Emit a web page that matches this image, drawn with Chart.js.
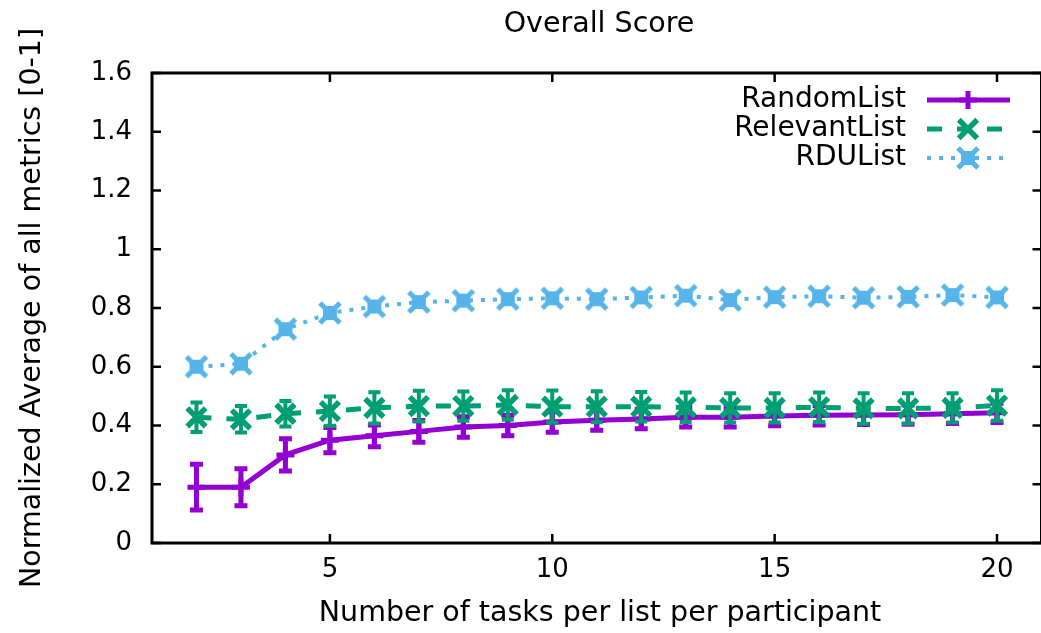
<!DOCTYPE html>
<html>
<head>
<meta charset="utf-8">
<script src="https://cdn.jsdelivr.net/npm/chart.js@4.4.0/dist/chart.umd.min.js"></script>
<style>
html,body{margin:0;padding:0;background:#fff;overflow:hidden;}
#wrap{width:1060px;height:633px;}
</style>
</head>
<body>
<div id="wrap"><canvas id="c" width="1060" height="633"></canvas></div>
<script>
// ---- data ----
const xValues = [2,3,4,5,6,7,8,9,10,11,12,13,14,15,16,17,18,19,20];
const randomMean = [0.19,0.19,0.30,0.35,0.365,0.38,0.395,0.40,0.412,0.418,0.422,0.428,0.428,0.432,0.435,0.436,0.437,0.44,0.443];
const randomErr  = [0.078,0.063,0.055,0.043,0.037,0.037,0.035,0.035,0.035,0.034,0.033,0.033,0.033,0.033,0.033,0.033,0.033,0.033,0.033];
const relevantMean = [0.428,0.421,0.44,0.449,0.46,0.466,0.466,0.47,0.464,0.464,0.464,0.462,0.46,0.46,0.462,0.458,0.458,0.46,0.468];
const relevantErr  = [0.05,0.045,0.043,0.05,0.053,0.052,0.05,0.05,0.055,0.053,0.05,0.05,0.05,0.05,0.05,0.052,0.052,0.05,0.052];
const rduMean = [0.60,0.61,0.728,0.783,0.805,0.82,0.825,0.83,0.833,0.83,0.836,0.842,0.827,0.837,0.84,0.835,0.838,0.844,0.836];
const seriesNames = ['RandomList','RelevantList','RDUList'];
const xTickValues = [5,10,15,20];
const yTickValues = [0,0.2,0.4,0.6,0.8,1,1.2,1.4,1.6];
const yTickLabels = ['0','0.2','0.4','0.6','0.8','1','1.2','1.4','1.6'];
const titleText = 'Overall Score';
const xTitle = 'Number of tasks per list per participant';
const yTitle = 'Normalized Average of all metrics [0-1]';

const FONT = 'DejaVu Sans';
const TXT = 28.5, LEG = 28, TICK = 26;
const PURPLE = '#9400d3', GREEN = '#009e73', BLUE = '#56b4e9';

// blue marker: filled square with diagonal knobs
function makeBlueMarker(){
  const c = document.createElement('canvas');
  c.width = 26; c.height = 26;
  const g = c.getContext('2d');
  g.fillStyle = BLUE; g.strokeStyle = BLUE;
  g.fillRect(6,6,14,14);
  g.lineWidth = 5; g.lineCap = 'butt';
  g.beginPath(); g.moveTo(3,3); g.lineTo(23,23); g.moveTo(23,3); g.lineTo(3,23); g.stroke();
  return c;
}
const blueMarker = makeBlueMarker();

const pts = arr => arr.map((v,i)=>({x:xValues[i], y:v}));

const datasets = [
  {label:seriesNames[0], data:pts(randomMean), errors:randomErr, borderColor:PURPLE, backgroundColor:PURPLE,
   borderWidth:5, pointStyle:'cross', pointRadius:9, pointBorderWidth:5, pointBorderColor:PURPLE, order:3, capW:13, errW:5},
  {label:seriesNames[1], data:pts(relevantMean), errors:relevantErr, borderColor:GREEN, backgroundColor:GREEN,
   borderWidth:5, borderDash:[15,15], pointStyle:'crossRot', pointRadius:13, pointBorderWidth:5.5, pointBorderColor:GREEN, order:2, capW:12, errW:4},
  {label:seriesNames[2], data:pts(rduMean), borderColor:BLUE, backgroundColor:BLUE,
   borderWidth:4, borderDash:[4,8], pointStyle:blueMarker, pointRadius:13, order:1}
];

const errorBars = {
  id:'errorBars',
  beforeDatasetDraw(chart, args){
    const ds = chart.data.datasets[args.index];
    if(!ds.errors) return;
    const xs = chart.scales.x, ys = chart.scales.y, ctx = chart.ctx;
    ctx.save();
    ctx.strokeStyle = ds.borderColor; ctx.lineWidth = ds.errW; ctx.setLineDash([]);
    ds.data.forEach((p,i)=>{
      const x = xs.getPixelForValue(p.x);
      const y1 = ys.getPixelForValue(p.y - ds.errors[i]);
      const y2 = ys.getPixelForValue(p.y + ds.errors[i]);
      ctx.beginPath();
      ctx.moveTo(x,y1); ctx.lineTo(x,y2);
      ctx.moveTo(x-ds.capW/2,y1); ctx.lineTo(x+ds.capW/2,y1);
      ctx.moveTo(x-ds.capW/2,y2); ctx.lineTo(x+ds.capW/2,y2);
      ctx.stroke();
    });
    ctx.restore();
  }
};

const frameAndText = {
  id:'frameAndText',
  beforeDatasetsDraw(chart){
    const {ctx, chartArea:a, scales:{x:xs,y:ys}} = chart;
    ctx.save();
    ctx.strokeStyle = '#000'; ctx.lineWidth = 2.5; ctx.setLineDash([]);
    ctx.beginPath();
    xTickValues.forEach(v=>{
      const px = xs.getPixelForValue(v);
      ctx.moveTo(px,a.bottom); ctx.lineTo(px,a.bottom-9);
      ctx.moveTo(px,a.top); ctx.lineTo(px,a.top+9);
    });
    yTickValues.forEach(v=>{
      const py = ys.getPixelForValue(v);
      ctx.moveTo(a.left,py); ctx.lineTo(a.left+9,py);
      ctx.moveTo(a.right,py); ctx.lineTo(a.right-9,py);
    });
    ctx.stroke();
    ctx.lineWidth = 3;
    ctx.strokeRect(a.left,a.top,a.right-a.left,a.bottom-a.top);
    ctx.restore();
  },
  afterDraw(chart){
    const {ctx, chartArea:a} = chart;
    ctx.save();
    ctx.fillStyle = '#000';
    ctx.font = TXT+'px "'+FONT+'"';
    ctx.textAlign = 'center'; ctx.textBaseline = 'middle';
    ctx.fillText(titleText, 599, 25);
    ctx.fillText(xTitle, 600, 614);
    ctx.save();
    ctx.translate(33, (a.top+a.bottom)/2);
    ctx.rotate(-Math.PI/2);
    ctx.fillText(yTitle, 0, 0);
    ctx.restore();
    // legend
    ctx.font = LEG+'px "'+FONT+'"';
    const rows = [100,129,158];
    datasets.forEach((ds,i)=>{
      const y = rows[i];
      ctx.textAlign = 'right'; ctx.fillStyle = '#000';
      ctx.fillText(ds.label, 906, y);
      ctx.strokeStyle = ds.borderColor; ctx.lineWidth = ds.borderWidth;
      ctx.setLineDash(ds.borderDash || []);
      ctx.beginPath(); ctx.moveTo(927,y); ctx.lineTo(1010,y); ctx.stroke();
      ctx.setLineDash([]);
      ctx.fillStyle = ds.backgroundColor; ctx.strokeStyle = ds.borderColor;
      ctx.lineWidth = ds.pointBorderWidth || 1;
      Chart.helpers.drawPoint(ctx, {pointStyle:ds.pointStyle, radius:ds.pointRadius, rotation:0, borderWidth:ds.pointBorderWidth||1}, 968, y);
    });
    ctx.restore();
  }
};

new Chart(document.getElementById('c'), {
  type:'line',
  data:{datasets},
  options:{
    responsive:false,
    animation:false,
    layout:{padding:{left:0,top:73,right:13,bottom:0}},
    plugins:{legend:{display:false}, title:{display:false}, tooltip:{enabled:false}},
    elements:{line:{tension:0}},
    scales:{
      x:{type:'linear', min:1, max:21,
         grid:{display:false, drawTicks:false}, border:{display:false},
         afterFit(s){ s.height = 90; },
         afterBuildTicks(s){ s.ticks = xTickValues.map(v=>({value:v})); },
         ticks:{font:{family:FONT,size:TICK}, color:'#000', padding:12, maxRotation:0, autoSkip:false,
                callback:(v)=>String(v)}},
      y:{type:'linear', min:0, max:1.6,
         grid:{display:false, drawTicks:false}, border:{display:false},
         afterFit(s){ s.width = 152; },
         afterBuildTicks(s){ s.ticks = yTickValues.map(v=>({value:v})); },
         ticks:{font:{family:FONT,size:TICK}, color:'#000', padding:20, autoSkip:false,
                callback:(v,i)=>yTickLabels[i]}}
    }
  },
  plugins:[errorBars, frameAndText]
});
</script>
</body>
</html>
